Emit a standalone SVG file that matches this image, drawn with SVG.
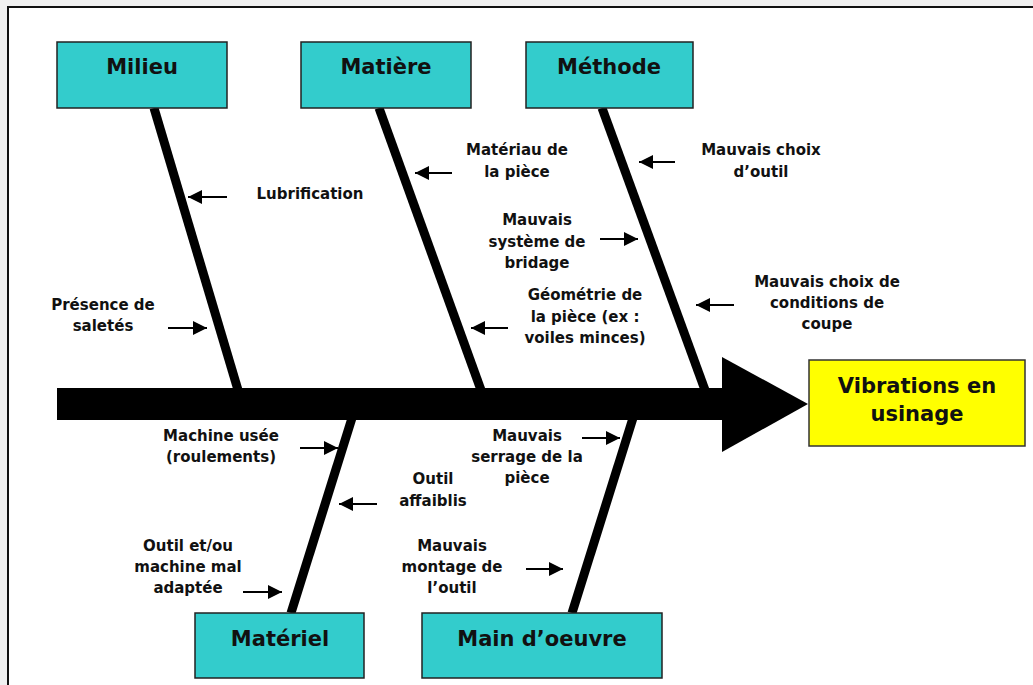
<svg xmlns="http://www.w3.org/2000/svg" width="1033" height="685" viewBox="0 0 1033 685">
<defs>
<marker id="ah" markerUnits="userSpaceOnUse" markerWidth="15" markerHeight="15" refX="14" refY="7" orient="auto">
<path d="M0,0 L14,7 L0,14 z" fill="#000"/>
</marker>
<style>
.box{fill:#33CCCC;stroke:#222;stroke-width:1.5}
.eff{fill:#FFFF00;stroke:#333;stroke-width:1.5}
.title{font-family:"DejaVu Sans",Verdana,sans-serif;font-weight:bold;font-size:21px;fill:#111;text-anchor:middle}
.lbl{font-family:"DejaVu Sans",Verdana,sans-serif;font-weight:bold;font-size:15px;fill:#111;text-anchor:middle}
.bone{stroke:#000;stroke-width:9;fill:none}
.arr{stroke:#000;stroke-width:2;fill:none;marker-end:url(#ah)}
</style>
</defs>
<rect x="0" y="0" width="1033" height="685" fill="#f0f0f0"/>
<rect x="8" y="7" width="1040" height="700" fill="#fff" stroke="#111" stroke-width="2"/>

<g id="connectors">
<line class="bone" x1="154" y1="108" x2="238" y2="390"/>
<line class="bone" x1="379" y1="108" x2="481" y2="390"/>
<line class="bone" x1="602" y1="108" x2="705" y2="390"/>
<line class="bone" x1="352" y1="418" x2="291" y2="613"/>
<line class="bone" x1="633" y1="418" x2="572" y2="613"/>
<rect x="57" y="388" width="668" height="32" fill="#000"/>
<polygon points="722,357 808,404 722,452" fill="#000"/>
<line class="arr" x1="227" y1="197" x2="188" y2="197"/>
<line class="arr" x1="168" y1="328" x2="207" y2="328"/>
<line class="arr" x1="452" y1="173" x2="415" y2="173"/>
<line class="arr" x1="508" y1="328" x2="471" y2="328"/>
<line class="arr" x1="600" y1="239" x2="638" y2="239"/>
<line class="arr" x1="675" y1="162" x2="639" y2="162"/>
<line class="arr" x1="734" y1="305" x2="696" y2="305"/>
<line class="arr" x1="300" y1="448" x2="338" y2="448"/>
<line class="arr" x1="377" y1="504" x2="339" y2="504"/>
<line class="arr" x1="243" y1="592" x2="282" y2="592"/>
<line class="arr" x1="582" y1="438" x2="620" y2="438"/>
<line class="arr" x1="526" y1="569" x2="563" y2="569"/>
</g>

<g id="milieu"><rect class="box" x="57" y="42" width="170" height="66"/><text class="title" x="142" y="74">Milieu</text></g>
<g id="matiere"><rect class="box" x="301" y="42" width="170" height="66"/><text class="title" x="386" y="74">Matière</text></g>
<g id="methode"><rect class="box" x="526" y="42" width="167" height="66"/><text class="title" x="609" y="74">Méthode</text></g>
<g id="materiel"><rect class="box" x="195" y="613" width="169" height="65"/><text class="title" x="280" y="646">Matériel</text></g>
<g id="main-oeuvre"><rect class="box" x="422" y="613" width="240" height="65"/><text class="title" x="542" y="646">Main d’oeuvre</text></g>
<g id="effet"><rect class="eff" x="809" y="360" width="216" height="86"/><text class="title" x="917" y="393">Vibrations en</text><text class="title" x="917" y="421">usinage</text></g>

<g id="labels">
<text class="lbl" x="310" y="199">Lubrification</text>
<text class="lbl" x="103" y="310">Présence de</text>
<text class="lbl" x="103" y="331">saletés</text>
<text class="lbl" x="517" y="155">Matériau de</text>
<text class="lbl" x="517" y="177">la pièce</text>
<text class="lbl" x="537" y="225">Mauvais</text>
<text class="lbl" x="537" y="247">système de</text>
<text class="lbl" x="537" y="268">bridage</text>
<text class="lbl" x="585" y="300">Géométrie de</text>
<text class="lbl" x="585" y="322">la pièce (ex :</text>
<text class="lbl" x="585" y="343">voiles minces)</text>
<text class="lbl" x="761" y="155">Mauvais choix</text>
<text class="lbl" x="761" y="177">d’outil</text>
<text class="lbl" x="827" y="287">Mauvais choix de</text>
<text class="lbl" x="827" y="308">conditions de</text>
<text class="lbl" x="827" y="329">coupe</text>
<text class="lbl" x="221" y="441">Machine usée</text>
<text class="lbl" x="221" y="462">(roulements)</text>
<text class="lbl" x="188" y="551">Outil et/ou</text>
<text class="lbl" x="188" y="572">machine mal</text>
<text class="lbl" x="188" y="593">adaptée</text>
<text class="lbl" x="527" y="441">Mauvais</text>
<text class="lbl" x="527" y="462">serrage de la</text>
<text class="lbl" x="527" y="483">pièce</text>
<text class="lbl" x="433" y="484">Outil</text>
<text class="lbl" x="433" y="506">affaiblis</text>
<text class="lbl" x="452" y="551">Mauvais</text>
<text class="lbl" x="452" y="572">montage de</text>
<text class="lbl" x="452" y="593">l’outil</text>
</g>
</svg>
